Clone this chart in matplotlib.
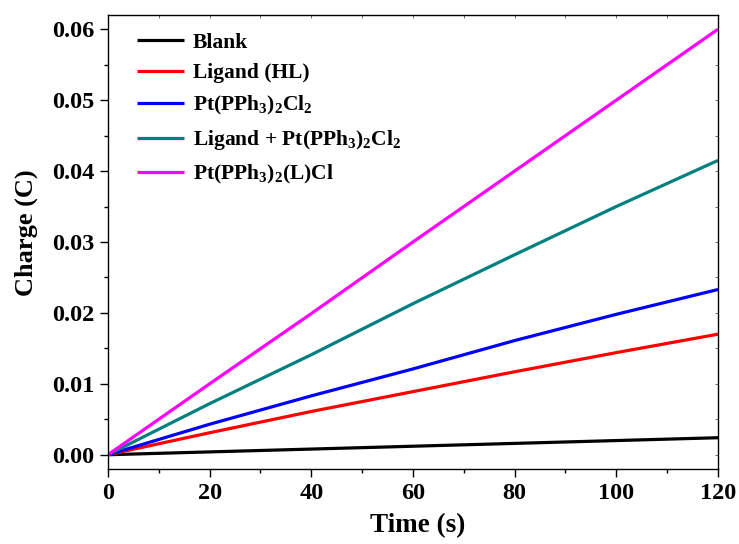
import matplotlib
matplotlib.use("Agg")
import matplotlib.pyplot as plt
from matplotlib.ticker import MultipleLocator

plt.rcParams['font.family'] = ['Liberation Serif', 'DejaVu Serif']
plt.rcParams['font.weight'] = 'bold'
plt.rcParams['mathtext.fontset'] = 'custom'
plt.rcParams['mathtext.rm'] = 'Liberation Serif:bold'
plt.rcParams['mathtext.bf'] = 'Liberation Serif:bold'
plt.rcParams['mathtext.it'] = 'Liberation Serif:bold:italic'

time_s = [0, 20, 40, 60, 80, 100, 120]
blank = [0.0, 0.0004, 0.0008, 0.0012, 0.0016, 0.0020, 0.0024]
ligand = [0.0, 0.0031, 0.0061, 0.0089, 0.0117, 0.0144, 0.0170]
pt_complex = [0.0, 0.0043, 0.0083, 0.0121, 0.0161, 0.0198, 0.0233]
ligand_pt = [0.0, 0.0072, 0.0141, 0.0213, 0.0282, 0.0350, 0.0415]
pt_lcl = [0.0, 0.0100, 0.0199, 0.0300, 0.0400, 0.0500, 0.0600]

labels = ['Blank', 'Ligand (HL)', r'Pt(PPh$_3$)$_2$Cl$_2$',
          r'Ligand + Pt(PPh$_3$)$_2$Cl$_2$', r'Pt(PPh$_3$)$_2$(L)Cl']
colors = ['#000000', '#ff0000', '#0000ff', '#008080', '#ff00ff']
series = [blank, ligand, pt_complex, ligand_pt, pt_lcl]

fig = plt.figure(figsize=(7.39, 5.44), dpi=100)
ax = fig.add_axes([0.146, 0.138, 0.8256, 0.8344])

for s, c, l in zip(series, colors, labels):
    ax.plot(time_s, s, color=c, lw=2.3, label=l, solid_capstyle='butt')

ax.set_xlim(0, 120)
ax.set_ylim(-0.002, 0.062)
ax.xaxis.set_major_locator(MultipleLocator(20))
ax.xaxis.set_minor_locator(MultipleLocator(10))
ax.yaxis.set_major_locator(MultipleLocator(0.01))
ax.yaxis.set_minor_locator(MultipleLocator(0.005))
ax.yaxis.set_major_formatter(matplotlib.ticker.FormatStrFormatter('%.2f'))

for sp in ax.spines.values():
    sp.set_linewidth(1.0)

ax.tick_params(axis='both', which='major', direction='out', length=6, width=1.0,
               labelsize=17.5, top=False, right=False, pad=4)
ax.tick_params(axis='both', which='minor', direction='out', length=3, width=1.0,
               top=False, right=False)
for lab in ax.get_xticklabels() + ax.get_yticklabels():
    lab.set_fontweight('bold')

# faint inner ticks on top and right
ax2 = ax.secondary_xaxis('top')
ax2.xaxis.set_major_locator(MultipleLocator(10))
ax2.tick_params(direction='in', length=2.5, width=0.6, colors='#555555', labeltop=False)
ax2.spines['top'].set_visible(False)
ax3 = ax.secondary_yaxis('right')
ax3.yaxis.set_major_locator(MultipleLocator(0.005))
ax3.tick_params(direction='in', length=2.5, width=0.6, colors='#555555', labelright=False)
ax3.spines['right'].set_visible(False)

ax.set_xlabel('Time (s)', fontsize=19.5, fontweight='bold', labelpad=7)
ax.set_ylabel('Charge (C)', fontsize=19, fontweight='bold', labelpad=10)
ax.xaxis.label.set_x(0.507)
ax.yaxis.label.set_y(0.52)

leg = ax.legend(loc='upper left', frameon=False, fontsize=15.5, handlelength=2.2,
                handletextpad=0.4, borderaxespad=0.3, labelspacing=0.5,
                bbox_to_anchor=(0.023, 0.9945))
for t in leg.get_texts():
    t.set_fontweight('bold')

fig.savefig('out.png', dpi=100)
